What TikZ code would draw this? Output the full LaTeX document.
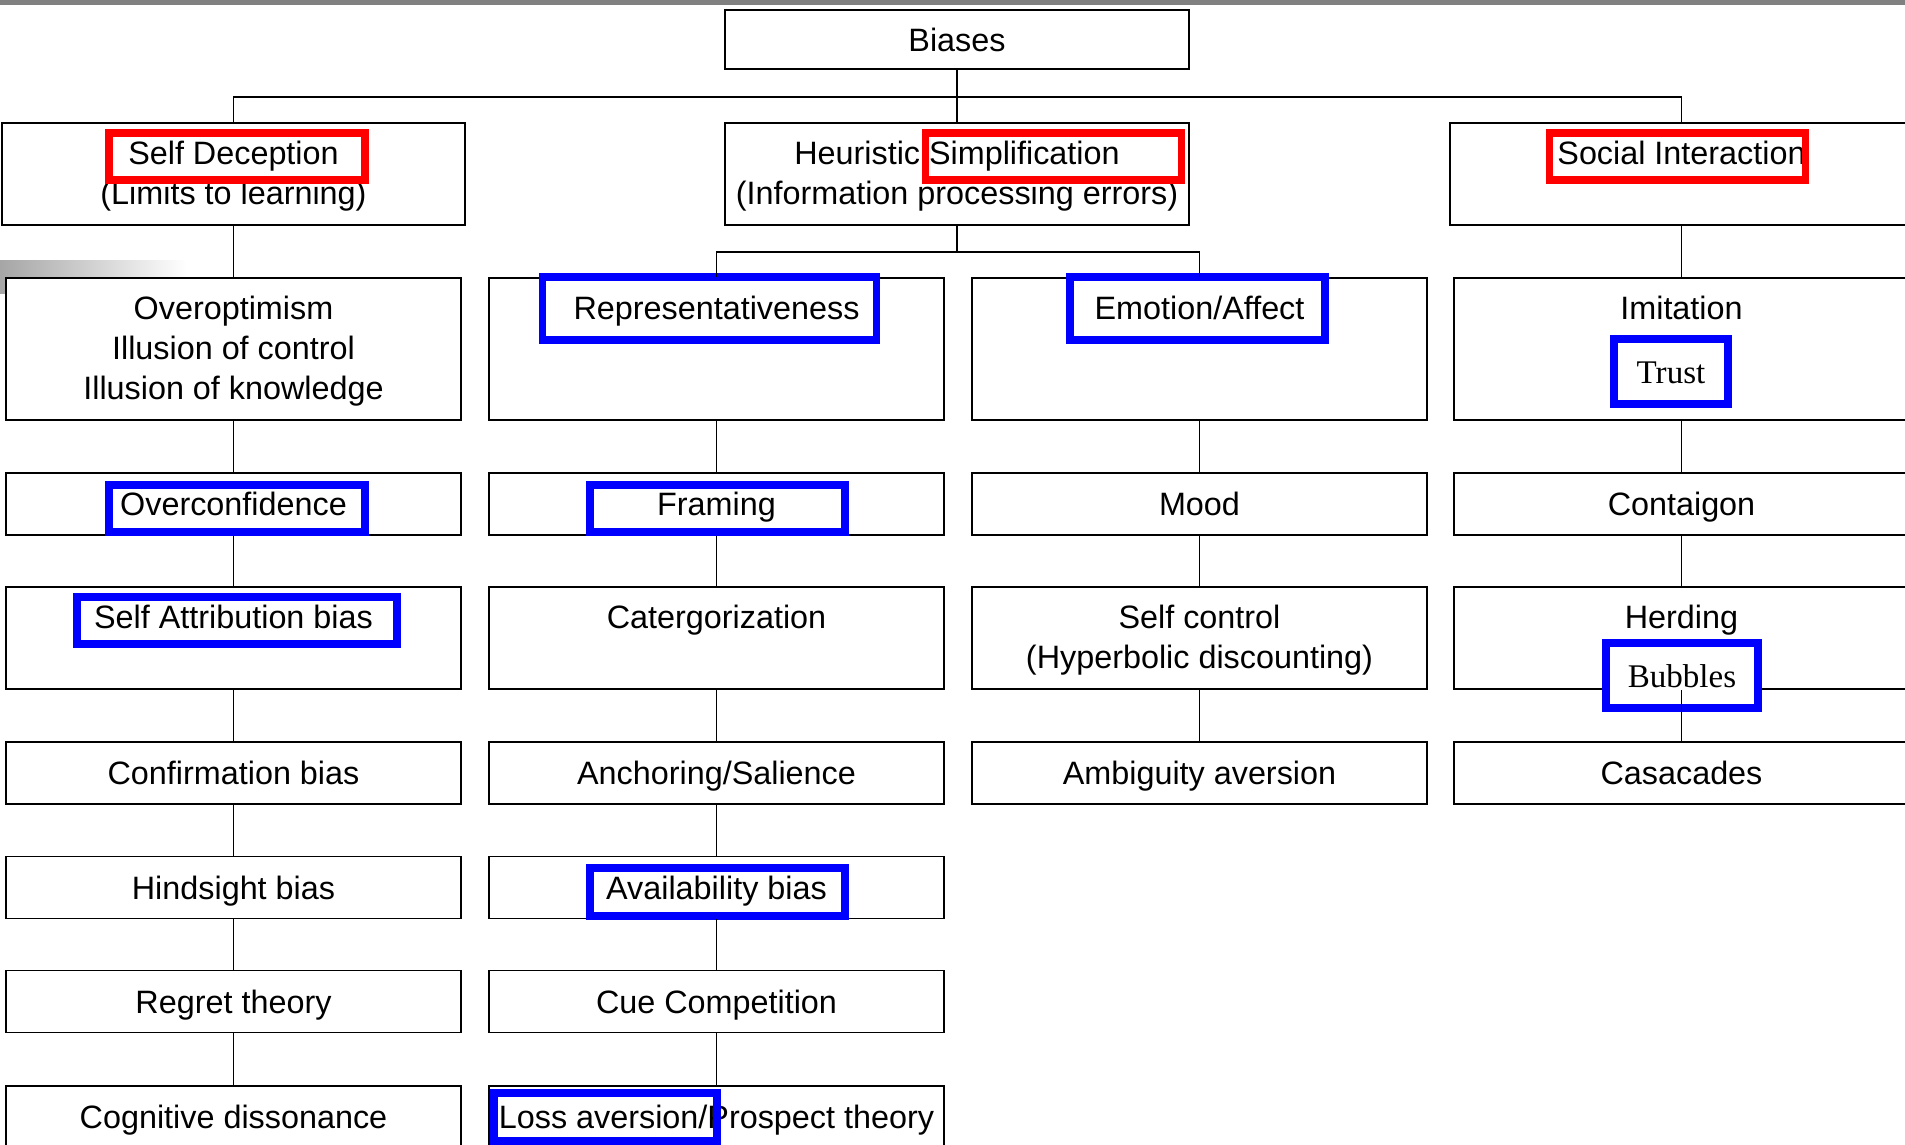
\documentclass[tikz,border=0pt]{standalone}
\usepackage{fontspec}
\setmainfont{Liberation Sans}
\newfontfamily\trustfont{Liberation Serif}
\newcommand\boxstrut{\vrule height 8.7pt depth 2pt width 0pt}
\newcommand\firstline{\vrule height 8.1pt width 0pt}

\begin{document}
\begin{tikzpicture}[x=0.01cm,y=-0.01cm]

\clip (0,0) rectangle (1905,1144);

% Grey strips behind the chart
\fill[black!50] (0,0) rectangle (1905,5);
\shade[left color=black!35,right color=white] (0,260) rectangle (187,293);

\tikzstyle{every node}=[draw,shape=rectangle,fill=white,line width=0.5pt,inner sep=0pt,minimum width=4.55cm,minimum height=0.62cm,align=center,font=\fontsize{9.2}{11.4}\selectfont,execute at begin node=\boxstrut,execute at end node=\boxstrut];
\tikzstyle{tall}=[minimum height=1.02cm];
\tikzstyle{huge}=[minimum height=1.42cm];
\tikzstyle{head}=[minimum width=4.63cm,minimum height=1.02cm];

% Draw the top of the tree
\node[minimum width=4.63cm,minimum height=0.59cm] (biases) at (957,39.5) {Biases};
\node[head] (sd) at (233.5,174) {\firstline Self Deception\\(Limits to learning)};
\node[head] (heur) at (957,174) {\firstline Heuristic Simplification\\(Information processing errors)};
\node[head] (si) at (1681.5,174) {\firstline Social Interaction\\ \mbox{}};

% Self deception column
\node[huge] (a1) at (233.5,349) {\firstline Overoptimism\\Illusion of control\\Illusion of knowledge};
\node (a2) at (233.5,504) {Overconfidence};
\node[tall] (a3) at (233.5,638) {\firstline Self Attribution bias\\ \mbox{}};
\node (a4) at (233.5,773) {Confirmation bias};
\node (a5) at (233.5,887.5) {Hindsight bias};
\node (a6) at (233.5,1001.5) {Regret theory};
\node (a7) at (233.5,1117) {Cognitive dissonance};

% Heuristic columns
\node[huge] (b1) at (716.5,349) {\firstline Representativeness\\ \mbox{}\\ \mbox{}};
\node (b2) at (716.5,504) {Framing};
\node[tall] (b3) at (716.5,638) {\firstline Catergorization\\ \mbox{}};
\node (b4) at (716.5,773) {Anchoring/Salience};
\node (b5) at (716.5,887.5) {Availability bias};
\node (b6) at (716.5,1001.5) {Cue Competition};
\node (b7) at (716.5,1117) {Loss aversion/Prospect theory};

\node[huge] (c1) at (1199.5,349) {\firstline Emotion/Affect\\ \mbox{}\\ \mbox{}};
\node (c2) at (1199.5,504) {Mood};
\node[tall] (c3) at (1199.5,638) {\firstline Self control\\(Hyperbolic discounting)};
\node (c4) at (1199.5,773) {Ambiguity aversion};

% Social interaction column
\node[huge] (d1) at (1681.5,349) {\firstline Imitation\\ \mbox{}\\ \mbox{}};
\node (d2) at (1681.5,504) {Contaigon};
\node[tall] (d3) at (1681.5,638) {\firstline Herding\\ \mbox{}};
\node (d4) at (1681.5,773) {Casacades};

% Red and blue frames on top of the boxes
\tikzstyle{redframe}=[draw=red,line width=2.2pt,fill=none,minimum width=2.56cm,minimum height=0.47cm];
\tikzstyle{blueframe}=[draw=blue,line width=2.2pt,fill=none,minimum height=0.47cm];
\tikzstyle{serifbox}=[fill=white,minimum height=0.65cm,font=\trustfont\fontsize{9.4}{11.4}\selectfont];

\node[redframe] (sdmark) at (237,156.5) {};
\node[redframe] (simpmark) at (1053.5,156.5) {};
\node[redframe] (simark) at (1677.5,156.5) {};

\node[blueframe,minimum width=3.34cm,minimum height=0.63cm] (repmark) at (709.5,308.5) {};
\node[blueframe,minimum width=2.55cm,minimum height=0.63cm] (emomark) at (1197.5,308.5) {};
\node[blueframe,serifbox,minimum width=1.14cm] (trust) at (1671,371.5) {Trust};
\node[blueframe,minimum width=2.56cm] (ocmark) at (237,508.5) {};
\node[blueframe,minimum width=2.55cm] (frmark) at (717.5,508.5) {};
\node[blueframe,minimum width=3.2cm] (samark) at (237.25,620.5) {};
\node[blueframe,serifbox,minimum width=1.52cm] (bubbles) at (1682,675.5) {Bubbles};
\node[blueframe,minimum width=2.55cm,minimum height=0.48cm] (avmark) at (717.5,892) {};
\node[blueframe,minimum width=2.23cm,minimum height=0.48cm] (lamark) at (605.5,1117) {};

% Links between the boxes
\coordinate (top) at (957,97);
\coordinate (mid) at (957,252);
\draw (biases) -- (top);
\draw (sd.north) |- (top) -| (si.north);
\draw (top) -- (heur);
\draw (heur) -- (mid);
\draw (b1.north) |- (mid) -| (c1.north);

\foreach \u/\v in {sd/a1,a1/a2,a2/a3,a3/a4,a4/a5,a5/a6,a6/a7,
                   b1/b2,b2/b3,b3/b4,b4/b5,b5/b6,b6/b7,
                   c1/c2,c2/c3,c3/c4,
                   si/d1,d1/d2,d2/d3,d3/d4}
   \draw (\u) -- (\v);

\end{tikzpicture}
\end{document}
